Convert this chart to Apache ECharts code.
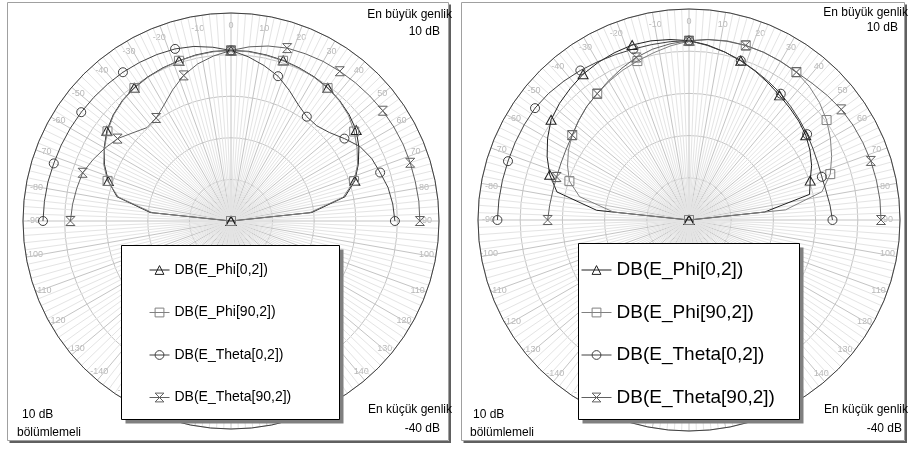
<!DOCTYPE html>
<html>
<head>
<meta charset="utf-8">
<script src="https://cdn.jsdelivr.net/npm/echarts@6/dist/echarts.min.js"></script>
<style>
html, body { margin: 0; padding: 0; background: #fff; }
#chart { width: 910px; height: 450px; }
</style>
</head>
<body>
<div id="chart"></div>
<script>
// theta angles (deg), every 6 degrees, markers on every 3rd point (18 deg)
var angles = [-90, -84, -78, -72, -66, -60, -54, -48, -42, -36, -30, -24, -18, -12, -6, 0,
              6, 12, 18, 24, 30, 36, 42, 48, 54, 60, 66, 72, 78, 84, 90];

var names = ['DB(E_Phi[0,2])', 'DB(E_Phi[90,2])', 'DB(E_Theta[0,2])', 'DB(E_Theta[90,2])'];

// left plot (dB)
var leftPhi0 = [-40, -20.5, -12, -9, -6.7, -4.8, -3.1, -1.9, -1, -0.4, 0, 0.3, 0.5, 0.8, 1, 1,
                1, 0.8, 0.6, 0.3, 0, -0.4, -1, -1.8, -2.8, -4.5, -6.5, -8.7, -12, -20.5, -40];
var leftPhi90 = [-40, -21, -12.3, -8.8, -6.5, -4.9, -3.3, -2, -1.1, -0.5, -0.1, 0.2, 0.5, 0.7, 0.9, 1,
                 0.9, 0.7, 0.5, 0.2, -0.1, -0.5, -1.1, -2, -3.4, -5, -6.7, -8.9, -12.4, -21, -40];
var leftTheta0 = [5.2, 5.1, 5, 4.8, 4.7, 4.6, 4.5, 4.4, 4.3, 4.2, 4, 3.8, 3.5, 2.9, 2, 1,
                  -0.3, -1.8, -3.4, -5.6, -7.7, -9, -9.2, -8.2, -6.3, -4.2, -3, -2.3, -1.4, -0.9, -0.6];
var leftTheta90 = [-1.4, -1.7, -2.1, -2.5, -3.7, -5, -6.3, -8.3, -9.8, -9.4, -7.8, -5.5, -3.2, -1.4, -0.1, 1,
                   2.1, 3, 3.7, 4, 4.3, 4.5, 4.7, 4.9, 5.1, 5.2, 5.3, 5.3, 5.3, 5.4, 5.4];

// right plot (dB)
var rightPhi0 = [-40, -18, -8, -5.3, -3.2, -1.3, 0.4, 1.3, 2, 2.7, 3.1, 3.4, 3.6, 3.4, 3, 2.5,
                 1.7, 0.7, -0.3, -1.4, -2.5, -3.5, -4.3, -5, -5.8, -6.9, -8.2, -9.8, -10.8, -22, -40];
var rightPhi90 = [-40, -22, -13.5, -10.2, -8.5, -7, -5.8, -4.8, -3.8, -3, -2.1, -1.2, -0.4, 0.5, 1.5, 2.4,
                  3, 3.4, 3.5, 3.5, 3.4, 3.3, 2.6, 1.6, 0.3, -1.3, -3, -4.8, -7.8, -17, -40];
var rightTheta0 = [5.4, 5.3, 5.2, 5.1, 5.1, 5.1, 5.1, 4.8, 4.3, 3.8, 3.3, 2.9, 2.6, 2.5, 2.5, 2.5,
                   1.6, 0.7, -0.3, -1.3, -2.2, -3, -3.9, -4.7, -5.4, -6.1, -6.6, -6.9, -6.8, -6.4, -6];
var rightTheta90 = [-6.5, -6.8, -7, -7, -6.8, -6.4, -5.8, -4.8, -3.8, -3, -1.9, -0.7, 0.5, 1.4, 2, 2.5,
                    3, 3.3, 3.5, 3.5, 3.4, 3.3, 3.6, 4.1, 4.6, 4.9, 5.1, 5.3, 5.4, 5.5, 5.5];

var symbols = ['triangle', 'rect', 'circle', 'path://M0,0L10,0L0,10L10,10Z'];
var colors = ['#202020', '#808080', '#404040', '#606060'];
var font = 'Liberation Sans, Arial, sans-serif';

var chart = echarts.init(document.getElementById('chart'));

function makeSeries(polarIndex, list) {
    return list.map(function (vals, k) {
        return {
            name: names[k],
            type: 'line',
            coordinateSystem: 'polar',
            polarIndex: polarIndex,
            data: angles.map(function (a, i) { return [vals[i], a]; }),
            symbol: symbols[k],
            showAllSymbol: true,
            symbolSize: function (v, p) { return p.dataIndex % 3 === 0 ? (k === 0 ? [10, 9] : 9) : 0; },
            lineStyle: { color: colors[k], width: 1 },
            itemStyle: { color: 'rgba(0,0,0,0)', borderColor: colors[k], borderWidth: 1 },
            z: 3
        };
    });
}

function angleAxis(i) {
    return {
        polarIndex: i,
        type: 'value',
        min: -180,
        max: 180,
        interval: 10,
        startAngle: 270,
        clockwise: true,
        axisLine: { show: true, lineStyle: { color: '#404040', width: 1 } },
        axisTick: { show: false },
        axisLabel: {
            show: true, margin: -17, color: '#b8b8b8', fontSize: 9, fontFamily: font,
            formatter: function (v) { return v === 180 ? '' : String(v); }
        },
        splitLine: { show: true, lineStyle: { color: '#c4c4c4', width: 1 } },
        minorTick: { show: false, splitNumber: 5 },
        minorSplitLine: { show: true, lineStyle: { color: '#e4e4e4', width: 1 } }
    };
}

function radiusAxis(i) {
    return {
        polarIndex: i,
        type: 'value',
        min: -40,
        max: 10,
        interval: 10,
        axisLine: { show: false },
        axisTick: { show: false },
        axisLabel: { show: false },
        splitLine: { show: true, lineStyle: { color: '#c4c4c4', width: 1 } }
    };
}

function txt(t, x, y, align, size) {
    return {
        type: 'text', z: 50,
        style: {
            text: t, x: x, y: y, fill: '#000', fontSize: size || 12, fontFamily: font,
            align: align, textAlign: align, verticalAlign: 'middle', textVerticalAlign: 'middle'
        }
    };
}

function box(x, y, w, h) {
    return [
        { type: 'rect', z: 99, shape: { x: x + 4, y: y + 4, width: w, height: h }, style: { fill: '#808080' } },
        { type: 'rect', z: 100, shape: { x: x, y: y, width: w, height: h }, style: { fill: '#fff', stroke: '#000', lineWidth: 1 } }
    ];
}

function frame(x, y, w, h) {
    return [
        { type: 'rect', z: 40, shape: { x: x, y: y, width: w, height: h }, style: { fill: 'none', stroke: '#a0a0a0', lineWidth: 1 } },
        { type: 'polyline', z: 40, shape: { points: [[x + w + 1.5, y + 2], [x + w + 1.5, y + h + 1.5], [x + 2, y + h + 1.5]] },
          style: { fill: 'none', stroke: '#606060', lineWidth: 2 } }
    ];
}

var graphics = [].concat(
    frame(7.5, 2.5, 441, 438),
    frame(461.5, 2.5, 443, 438),
    box(121.5, 245.5, 218, 174),
    box(578.5, 243.5, 221, 176),
    [
        txt('En büyük genlik', 452, 15, 'right'),
        txt('10 dB', 440, 32, 'right'),
        txt('10 dB', 22, 415, 'left'),
        txt('bölümlemeli', 17, 433, 'left'),
        txt('En küçük genlik', 452, 410, 'right'),
        txt('-40 dB', 440, 429, 'right'),
        txt('En büyük genlik', 908, 13, 'right'),
        txt('10 dB', 898, 28, 'right'),
        txt('10 dB', 473, 415, 'left'),
        txt('bölümlemeli', 470, 433, 'left'),
        txt('En küçük genlik', 908, 410, 'right'),
        txt('-40 dB', 902, 429, 'right')
    ]
);

var legendIcon = {
    lineStyle: { width: 1 },
    itemStyle: { color: 'rgba(0,0,0,0)', borderWidth: 1 }
};

var option = {
    animation: false,
    backgroundColor: '#fff',
    polar: [
        { center: [231, 221], radius: 208 },
        { center: [689, 220], radius: 211 }
    ],
    angleAxis: [angleAxis(0), angleAxis(1)],
    radiusAxis: [radiusAxis(0), radiusAxis(1)],
    legend: [
        {
            orient: 'vertical', left: 144, top: 257, z: 200, selectedMode: false,
            itemWidth: 20, itemHeight: 11, itemGap: 26.5,
            lineStyle: legendIcon.lineStyle, itemStyle: legendIcon.itemStyle,
            textStyle: { fontSize: 14, lineHeight: 16, fontFamily: font, color: '#000' },
            data: names
        },
        {
            orient: 'vertical', left: 576, top: 254, z: 200, selectedMode: false,
            itemWidth: 30, itemHeight: 11, itemGap: 20.5,
            lineStyle: legendIcon.lineStyle, itemStyle: legendIcon.itemStyle,
            textStyle: { fontSize: 19, lineHeight: 22, fontFamily: font, color: '#000' },
            data: names
        }
    ],
    graphic: graphics,
    series: makeSeries(0, [leftPhi0, leftPhi90, leftTheta0, leftTheta90])
        .concat(makeSeries(1, [rightPhi0, rightPhi90, rightTheta0, rightTheta90]))
};

chart.setOption(option);
</script>
</body>
</html>
